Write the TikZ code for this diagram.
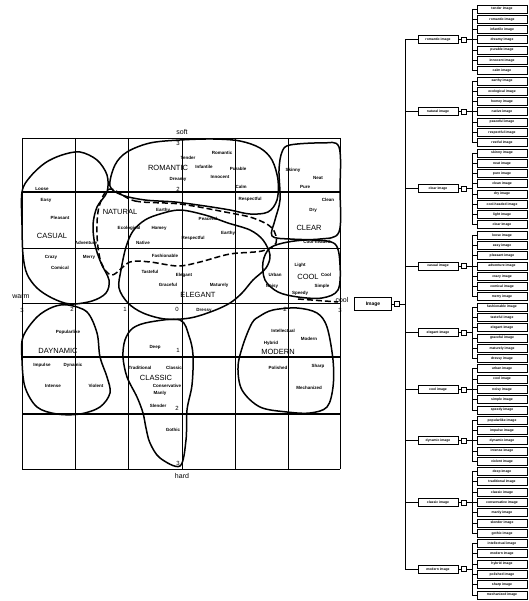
\documentclass[tikz,border=0pt]{standalone}
\usepackage{fontspec}
\setmainfont{Liberation Sans}
\setsansfont{Liberation Sans}
\usetikzlibrary{positioning}

\tikzset{
  gridthin/.style={line width=0.7pt},
  gridthick/.style={line width=1.6pt},
  blob/.style={line width=1.5pt, line join=round},
  dashblob/.style={blob, dash pattern=on 6pt off 3pt},
  word/.style={font=\fontsize{4.5}{5}\selectfont\bfseries, inner sep=0pt},
  region/.style={font=\fontsize{7.5}{8}\selectfont, inner sep=0pt},
  axislbl/.style={font=\fontsize{7}{8}\selectfont, inner sep=0pt},
  num/.style={font=\fontsize{6}{7}\selectfont, inner sep=0pt},
  imgbox/.style={draw, line width=0.8pt, minimum width=37pt, minimum height=13pt, inner sep=0pt, font=\fontsize{5}{6}\selectfont\bfseries},
  grpbox/.style={draw, line width=0.8pt, minimum width=40pt, minimum height=8pt, inner sep=0pt, font=\fontsize{3.4}{4}\selectfont\bfseries},
  leafbox/.style={draw, line width=0.8pt, minimum width=50pt, minimum height=8pt, inner sep=0pt, font=\fontsize{3.4}{4}\selectfont\bfseries},
  portbox/.style={draw, line width=0.7pt, minimum size=5pt, inner sep=0pt},
  link/.style={line width=0.8pt}
}

\begin{document}
\begin{tikzpicture}[x=1pt, y=-1pt, font=\sffamily]
  \useasboundingbox[fill=white] (0,0) rectangle (528,601);

  % ---------- grid ----------
  \foreach \gx in {22,75,128,182,235,288,340}
    \draw[gridthin] (\gx,138) -- (\gx,469);
  \foreach \gy in {138,248,303,469}
    \draw[gridthin] (22,\gy) -- (340,\gy);
  \foreach \gy in {192,357,414}
    \draw[gridthick] (22,\gy) -- (340,\gy);

  % axis labels
  \node[axislbl] (soft) at (182,132) {soft};
  \node[axislbl] (hard) at (182,476) {hard};
  \node[axislbl] (warm) at (21,297) {warm};
  \node[axislbl] (cool) at (342,300) {cool};
  \foreach \t/\px/\py [count=\i] in {3/22/310, 2/72/309, 1/125/309, 0/177/309, 2/285/309, 3/340/310,
      3/178/143, 2/178/189, 1/178/350, 2/177/408, 3/178/463}
    \node[num] (n\i) at (\px,\py) {\t};

  % ---------- image regions ----------
  % casual
  \draw[blob] plot[smooth cycle, tension=0.55] coordinates {(22,192) (30,177) (45,163) (62,155) (80,152) (97,160) (107,175) (107,192) (97,207) (93,225) (95,245) (101,263) (109,280) (106,293) (92,301) (70,304) (52,298) (37,288) (27,274) (23,255) (22,225)};
  % romantic
  \draw[blob] plot[smooth cycle, tension=0.55] coordinates {(110,186) (115,165) (127,152) (150,143) (180,140) (213,139) (240,141) (260,148) (272,160) (278,180) (277,200) (268,212) (250,214) (230,210) (205,206) (175,202) (145,200) (122,195)};
  % clear
  \draw[blob] plot[smooth cycle, tension=0.55] coordinates {(290,145) (322,143) (339,147) (340,190) (339,232) (320,239) (290,239) (272,236) (275,220) (280,200) (279,170) (282,152)};
  % natural
  \draw[dashblob] plot[smooth cycle, tension=0.55] coordinates {(110,189) (135,201) (180,204) (225,212) (253,218) (272,228) (276,243) (262,251) (230,254) (200,262) (178,266) (150,262) (130,262) (112,275) (101,262) (97,235) (99,207)};
  % elegant
  \draw[blob] plot[smooth cycle, tension=0.55] coordinates {(121,270) (126,247) (133,231) (145,220) (160,214) (180,210) (205,215) (228,223) (250,230) (263,240) (270,255) (266,268) (253,280) (242,293) (230,303) (213,311) (190,318) (165,319) (143,313) (128,303) (119,288)};
  % cool
  \draw[blob] plot[smooth cycle, tension=0.55] coordinates {(263,262) (270,248) (288,242) (312,240) (335,244) (340,265) (338,290) (322,298) (298,297) (278,292) (265,280)};
  \draw[dashblob] (298,299) -- (338,302);
  % modern
  \draw[blob] plot[smooth cycle, tension=0.55] coordinates {(252,323) (243,345) (238,367) (242,390) (260,407) (287,412) (310,413) (327,407) (333,387) (333,360) (327,327) (317,313) (297,308) (273,310) (260,316)};
  % daynamic
  \draw[blob] plot[smooth cycle, tension=0.55] coordinates {(68,305) (87,312) (97,333) (100,357) (107,377) (110,393) (100,407) (80,414) (57,414) (37,407) (25,387) (22,360) (23,337) (37,317) (53,307)};
  % classic
  \draw[blob] plot[smooth cycle, tension=0.55] coordinates {(180,320) (150,322) (133,328) (125,340) (123,357) (127,377) (137,397) (143,413) (146,428) (150,443) (160,458) (180,466) (186,440) (187,410) (192,385) (193,355) (189,336)};

  % region names
  \foreach \t/\px/\py [count=\i] in {ROMANTIC/168/168, NATURAL/120/212, CASUAL/52/236, CLEAR/309/228,
      ELEGANT/198/295, COOL/308/277, DAYNAMIC/58/351, CLASSIC/156/378, MODERN/278/352}
    \node[region] (r\i) at (\px,\py) {\t};

  % image words
  \foreach \t/\px/\py [count=\i] in {Loose/42/189, Tender/188/158, Romantic/222/153, Infantile/204/167,
      Dreamy/178/179, Purable/238/169, Innocent/220/177, Calm/241/187, Skinny/293/170, Neat/318/178,
      Pure/305/187, Respectful/250/199, Clean/328/200, Dry/313/210, Cool-headed/317/242,
      Easy/46/200, Pleasant/60/218, Adventure/86/243, Crazy/51/257, Merry/89/257, Comical/60/268,
      Earthy/163/210, Ecological/129/228, Homey/159/228, Native/143/243, Peaceful/208/219,
      Respectful/193/238, Earthy/228/233, Fashionable/165/256, Tasteful/150/272, Elegant/184/275,
      Graceful/168/285, Maturely/219/285, Dressy/204/310, Light/300/265, Urban/275/275, Cool/326/275,
      Noisy/272/286, Simple/322/286, Speedy/300/293, Popularlike/68/332, Impulse/42/365,
      Dynamic/73/365, Intense/53/386, Violent/96/386, Deep/155/347, Traditional/140/368,
      Classic/174/368, Conservative/167/386, Manly/160/393, Slender/158/406, Gothic/173/430,
      Intellectual/283/331, Modern/309/339, Hybrid/271/343, Polished/278/368, Sharp/318/366,
      Mechanized/309/388}
    \node[word] (w\i) at (\px,\py) {\t};

  % ---------- image tree ----------
  \node[imgbox] (img) at (373,304) {Image};
  \node[portbox, right=2pt of img] (imgport) {};
  \coordinate (trunk) at (405,0);
  \coordinate (sub) at (472,0);
  \draw[link] (img) -- (imgport);
  \draw[link] (imgport.east) -- (trunk |- imgport);

  \foreach \w [count=\i from 0] in {tender, romantic, infantile, dreamy, purable, innocent, calm,
      earthy, ecological, homey, native, peaceful, respectful, restful,
      skinny, neat, pure, clean, dry, cool-headed, light, clear,
      loose, easy, pleasant, adventure, crazy, comical, merry,
      fashionable, tasteful, elegant, graceful, maturely, dressy,
      urban, cool, noisy, simple, speedy,
      popularlike, impulse, dynamic, intense, violent,
      deep, traditional, classic, conservative, manly, slender, gothic,
      intellectual, modern, hybrid, polished, sharp, mechanized}
    \node[leafbox] (c\i) at (502,{9+\i*10.28}) {\w\ image};

  \foreach \grp/\a/\b [count=\g] in {romantic/0/6, natural/7/13, clear/14/21, casual/22/28,
      elegant/29/34, cool/35/39, dynamic/40/44, classic/45/51, modern/52/57} {
    \node[grpbox] (g\g) at (438,{9+(\a+\b)*5.14}) {\grp\ image};
    \node[portbox, right=3pt of g\g] (p\g) {};
    \draw[link] (g\g) -- (p\g);
    \draw[link] (trunk |- g\g) -- (g\g.west);
    \draw[link] (p\g.east) -- (sub |- p\g);
    \draw[link] (sub |- c\a) -- (sub |- c\b);
    \foreach \k in {\a,...,\b}
      \draw[link] (sub |- c\k) -- (c\k.west);
  }
  \draw[link] (trunk |- g1) -- (trunk |- g9);
\end{tikzpicture}
\end{document}
